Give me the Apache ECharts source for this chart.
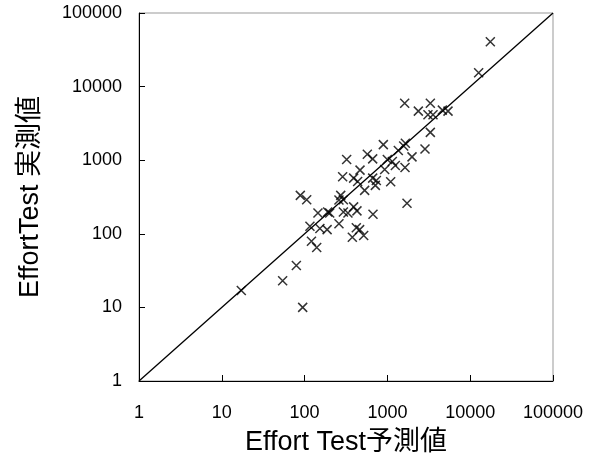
<!DOCTYPE html>
<html>
<head>
<meta charset="utf-8">
<script src="https://cdn.jsdelivr.net/npm/echarts@6/dist/echarts.min.js"></script>
<style>
  html, body { margin: 0; padding: 0; background: #fff; }
  #chart { width: 598px; height: 461px; }
</style>
</head>
<body>
<div id="chart"></div>
<script>
// 予測値 (x) と 実測値 (y)
const predicted = [17500, 12650, 1617, 2364, 3300, 3090, 3555, 4610, 5395, 3300,
  2845, 893, 1647, 1573, 1355, 1983, 1632, 572, 664, 322,
  998, 1147, 1247, 927, 467, 288, 391, 437, 664, 735,
  715, 1095, 531, 273, 260, 294, 88.8, 106, 145, 190,
  201, 294, 334, 391, 429, 670, 1725, 116, 153, 187,
  260, 421, 462, 377, 517, 121, 140, 79.5, 54.3, 17.2, 94.8]
const actual = [40600, 15460, 5955, 4645, 5955, 4140, 4140, 4790, 4645, 2390,
  1423, 1629, 1698, 1563, 1351, 1109, 796, 1205, 1042, 1021,
  1021, 959, 847, 748, 733, 595, 571, 515, 571, 531,
  455, 510, 389, 333, 288, 291, 333, 291, 192, 198,
  192, 198, 192, 232, 205, 184, 260, 127, 118, 114,
  137, 121, 114, 90, 95, 79, 65, 37, 23, 17, 10]
const tickValues = [1, 10, 100, 1000, 10000, 100000]
const xName = 'Effort Test予測値'
const yName = 'EffortTest 実測値'

const points = predicted.map((x, i) => [x, actual[i]])
const diagonal = [[tickValues[0], tickValues[0]], [tickValues[tickValues.length - 1], tickValues[tickValues.length - 1]]]

const font = 'Liberation Sans, Arial, Noto Sans CJK JP, sans-serif'
const fmt = v => String(Math.round(v))

const myChart = echarts.init(document.getElementById('chart'), null, { renderer: 'canvas' })
myChart.setOption({
  animation: false,
  grid: {
    left: 139,
    right: 45,
    top: 13,
    bottom: 78,
    show: true,
    borderColor: '#999',
    borderWidth: 1
  },
  xAxis: {
    type: 'log',
    logBase: 10,
    min: tickValues[0],
    max: tickValues[tickValues.length - 1],
    name: xName,
    nameLocation: 'middle',
    nameGap: 48,
    nameTextStyle: { fontFamily: font, fontSize: 27, color: '#000' },
    axisLine: { show: true, lineStyle: { color: '#000', width: 1 } },
    axisTick: { show: true, inside: true, length: 6, lineStyle: { color: '#000' } },
    axisLabel: { fontFamily: font, fontSize: 18, color: '#000', margin: 23, formatter: fmt },
    splitLine: { show: false }
  },
  yAxis: {
    type: 'log',
    logBase: 10,
    min: tickValues[0],
    max: tickValues[tickValues.length - 1],
    name: yName,
    nameLocation: 'middle',
    nameGap: 95,
    nameTextStyle: { fontFamily: font, fontSize: 27, color: '#000' },
    axisLine: { show: true, lineStyle: { color: '#000', width: 1 } },
    axisTick: { show: true, inside: true, length: 6, lineStyle: { color: '#000' } },
    axisLabel: { fontFamily: font, fontSize: 18, color: '#000', margin: 17, formatter: fmt },
    splitLine: { show: false }
  },
  series: [
    {
      type: 'line',
      data: diagonal,
      symbol: 'none',
      lineStyle: { color: '#000', width: 1.3 },
      silent: true
    },
    {
      type: 'scatter',
      data: points,
      symbol: 'path://M0,0L10,10M10,0L0,10',
      symbolSize: 9,
      itemStyle: { color: 'none', borderColor: '#000', borderWidth: 1.5 }
    }
  ]
})
</script>
</body>
</html>
